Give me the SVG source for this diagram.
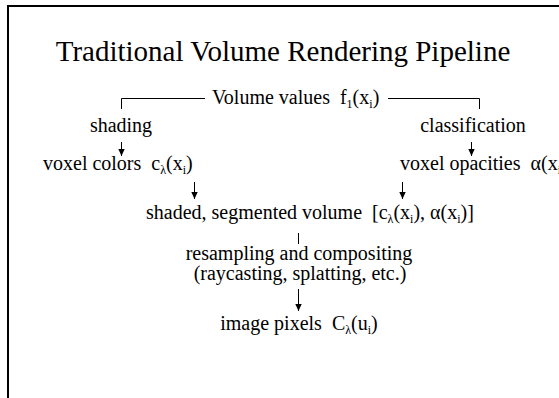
<svg xmlns="http://www.w3.org/2000/svg" width="559" height="398" viewBox="0 0 559 398">
<style>
text{font-family:"Liberation Serif","Times New Roman",serif;fill:#000}
.t{font-size:29px}
.l{font-size:20px}
.s{font-size:12px}
.c{stroke:#000;stroke-width:1;fill:none}
</style>
<defs>
<marker id="ah" markerWidth="8" markerHeight="8" refX="7" refY="4" orient="auto" markerUnits="userSpaceOnUse">
<path d="M0,0.8 L7,4 L0,7.2 z" fill="#000"/>
</marker>
</defs>
<rect width="559" height="398" fill="#fff"/>
<path d="M8,398 V6 H559" fill="none" stroke="#000" stroke-width="2"/>
<text id="title" class="t" x="283" y="61" text-anchor="middle">Traditional Volume Rendering Pipeline</text>
<g id="connectors">
<path class="c" d="M205,98.5 H121.5 V109"/>
<path class="c" d="M388,98.5 H479.5 V109"/>
<path class="c" d="M121.5,142 V156" marker-end="url(#ah)"/>
<path class="c" d="M471.5,142 V156" marker-end="url(#ah)"/>
<path class="c" d="M194.5,182 V199" marker-end="url(#ah)"/>
<path class="c" d="M402.5,182 V199" marker-end="url(#ah)"/>
<path class="c" d="M298.5,233 V244"/>
<path class="c" d="M298.5,289 V311" marker-end="url(#ah)"/>
</g>
<g id="volume"><text class="l" x="212" y="104" xml:space="preserve">Volume values  f<tspan class="s" dy="4">1</tspan><tspan dy="-4">(x</tspan><tspan class="s" dy="4">i</tspan><tspan dy="-4">)</tspan></text></g>
<g id="shading"><text class="l" x="121" y="132" text-anchor="middle">shading</text></g>
<g id="classification"><text class="l" x="473" y="132" text-anchor="middle">classification</text></g>
<g id="colors"><text class="l" x="43" y="170" xml:space="preserve">voxel colors  c<tspan class="s" dy="4">λ</tspan><tspan dy="-4">(x</tspan><tspan class="s" dy="4">i</tspan><tspan dy="-4">)</tspan></text></g>
<g id="opacities"><text class="l" x="400" y="170" xml:space="preserve">voxel opacities  α(x<tspan class="s" dy="4">i</tspan><tspan dy="-4">)</tspan></text></g>
<g id="shaded"><text class="l" x="146" y="219" xml:space="preserve">shaded, segmented volume  [c<tspan class="s" dy="4">λ</tspan><tspan dy="-4">(x</tspan><tspan class="s" dy="4">i</tspan><tspan dy="-4">), α(x</tspan><tspan class="s" dy="4">i</tspan><tspan dy="-4">)]</tspan></text></g>
<g id="resampling"><text class="l" x="299" y="260" text-anchor="middle">resampling and compositing</text><text class="l" x="300" y="280" text-anchor="middle">(raycasting, splatting, etc.)</text></g>
<g id="pixels"><text class="l" x="299" y="330" text-anchor="middle" xml:space="preserve">image pixels  C<tspan class="s" dy="4">λ</tspan><tspan dy="-4">(u</tspan><tspan class="s" dy="4">i</tspan><tspan dy="-4">)</tspan></text></g>
</svg>
